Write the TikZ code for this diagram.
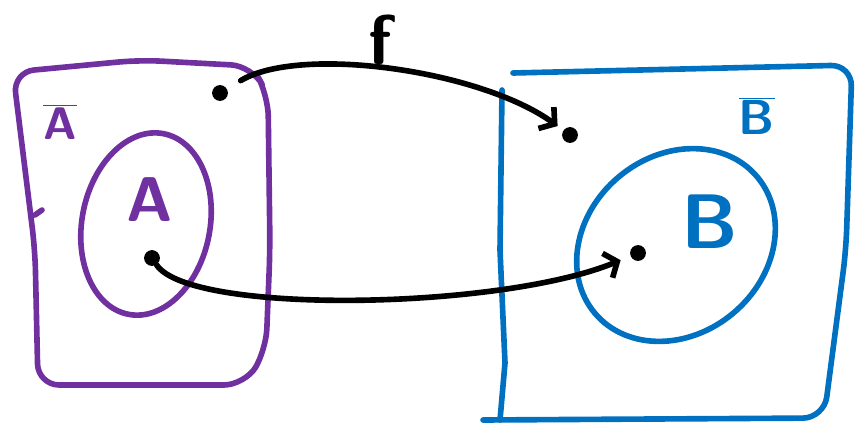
\documentclass[tikz,border=0pt]{standalone}
\usepackage{fix-cm}
\usetikzlibrary{arrows.meta}
\definecolor{setpurple}{HTML}{7030A0}
\definecolor{setblue}{HTML}{0070C0}
\tikzset{
  pen/.style={line width=3.2pt, line cap=round, line join=round},
  setA/.style={pen, setpurple},
  setB/.style={pen, setblue},
  dot/.style={circle, fill=black, inner sep=0pt, minimum size=9pt},
  map/.style={pen, black, -{Straight Barb[length=6pt,width=15pt]}},
  lbl/.style={inner sep=0pt, font=\sffamily\bfseries\fontsize{#1}{#1}\selectfont},
}
\begin{document}
\begin{tikzpicture}[x=0.02cm, y=-0.02cm]
\useasboundingbox (0,0) rectangle (855,426);
% outer set (purple)
\draw[setA, rounded corners=12pt] (13,72) -- (140,60) -- (252,66) -- (268,95) -- (270,250)
  -- (266,350) -- (245,385) -- (38,385) -- (35,250) -- cycle;
\draw[setA] (35,215) -- (42,210);
\node[lbl=26, text=setpurple] (Abar) at (60,122) {$\overline{\mbox{A}}$};
% inner set A
\draw[setA, rotate around={-11:(146,224)}] (146,224) ellipse [x radius=64, y radius=92];
\node[lbl=36, text=setpurple] (A) at (150,200) {A};
% outer set (blue)
\draw[setB, rounded corners=12pt] (513,73) -- (852,65) -- (846,250) -- (824,418) -- (483,420);
\draw[setB] (502,90) -- (500,250) -- (505,363) -- (500,420);
\node[lbl=28, text=setblue] (Bbar) at (757,116) {$\overline{\mbox{B}}$};
% inner set B
\draw[setB, rotate around={40:(676,245)}] (676,245) ellipse [x radius=106, y radius=89];
\node[lbl=44, text=setblue] (B) at (710,222) {B};
% points
\node[dot] (a1) at (220,93) {};
\node[dot] (a2) at (152,258) {};
\node[dot] (b1) at (570,135) {};
\node[dot] (b2) at (638,253) {};
% the map f
\draw[map, shorten <=9pt, shorten >=4pt] (a1) .. controls (300,45) and (480,70) .. (b1);
\draw[map, shorten >=6pt] (a2) .. controls (190,315) and (500,310) .. (b2);
\node[lbl=40] (f) at (380,40) {f};
\end{tikzpicture}
\end{document}
